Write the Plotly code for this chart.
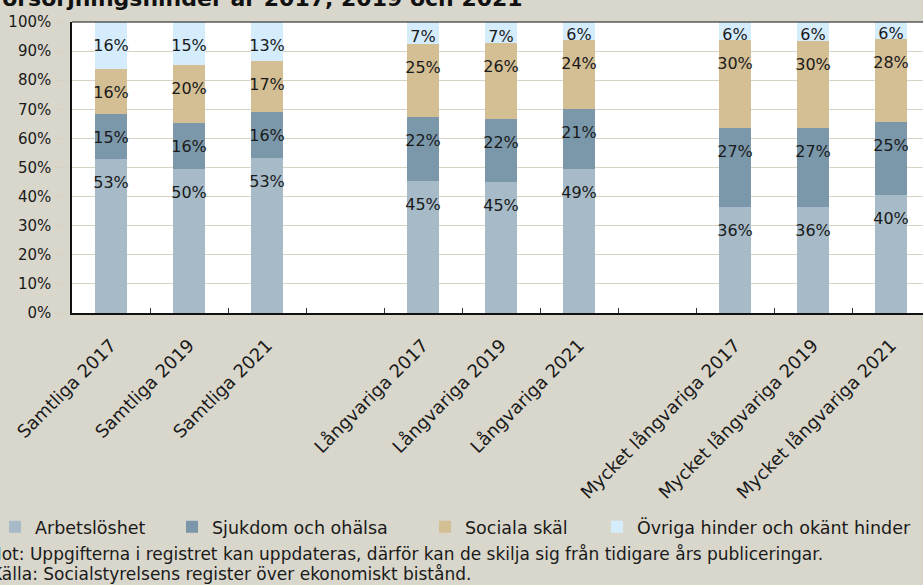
import plotly.graph_objects as go

# Kategorier (tomma platser mellan grupperna)
kategorier = ["Samtliga 2017", "Samtliga 2019", "Samtliga 2021", " ",
              "Långvariga 2017", "Långvariga 2019", "Långvariga 2021", "  ",
              "Mycket långvariga 2017", "Mycket långvariga 2019", "Mycket långvariga 2021"]

# Andel (%) per försörjningshinder
arbetsloshet = [52.9, 49.6, 53.4, None, 45.3, 45.0, 49.4, None, 36.3, 36.5, 40.4]
sjukdom = [15.4, 15.7, 15.8, None, 21.9, 21.8, 20.6, None, 27.3, 27.1, 25.4]
sociala = [15.7, 20.0, 17.4, None, 25.4, 26.1, 23.7, None, 30.1, 30.0, 28.4]
ovriga = [16.0, 14.7, 13.4, None, 7.4, 7.1, 6.3, None, 6.3, 6.4, 5.8]

serier = [
    ("Arbetslöshet", arbetsloshet, "#a6bbc7", "legend", -0.0905),
    ("Sjukdom och ohälsa", sjukdom, "#7b98aa", "legend2", 0.1175),
    ("Sociala skäl", sociala, "#d4bf95", "legend3", 0.4148),
    ("Övriga hinder och okänt hinder", ovriga, "#d4ecfc", "legend4", 0.6169),
]

FONT = "DejaVu Sans"
BG = "#d9d7cb"
GRID = "#d6d3c5"

fig = go.Figure()
bas = [0.0] * len(kategorier)
for namn, varden, farg, leg, lx in serier:
    fig.add_trace(go.Bar(
        x=kategorier, y=varden, name=namn, legend=leg,
        marker=dict(color=farg, line=dict(width=0)),
        hoverinfo="skip",
    ))
    # etiketter en bit under segmentets överkant
    lab_y, lab_t = [], []
    for i, v in enumerate(varden):
        if v is None:
            lab_y.append(None)
            lab_t.append("")
            continue
        topp = bas[i] + v
        lab_y.append(topp - min(8.6, v * 0.75))
        lab_t.append(f"{v:.0f}%")
        bas[i] = topp
    fig.add_trace(go.Scatter(
        x=kategorier, y=lab_y, text=lab_t, mode="text",
        textposition="middle center",
        textfont=dict(family=FONT, size=16, color="#1a1a1a"),
        showlegend=False, hoverinfo="skip",
    ))

legender = {}
for namn, varden, farg, leg, lx in serier:
    legender[leg] = dict(
        x=lx, y=-0.735, xanchor="left", yanchor="middle",
        orientation="h", bgcolor="rgba(0,0,0,0)", borderwidth=0,
        font=dict(family=FONT, size=17.5, color="#1a1a1a"),
    )

fig.update_layout(
    width=923, height=585,
    barmode="stack", bargap=0.59,
    paper_bgcolor=BG, plot_bgcolor="white",
    font=dict(family=FONT, color="#1a1a1a"),
    margin=dict(l=72, r=0, t=22, b=272, autoexpand=False),
    showlegend=True,
    **legender,
)

fig.update_xaxes(
    type="category", categoryorder="array", categoryarray=kategorier,
    range=[-0.5, 10.41], tickangle=-45, ticklabelstandoff=13,
    ticks="inside", tickson="boundaries", ticklen=5, tickcolor="#333333",
    showline=True, linecolor="#111111", linewidth=1.5,
    showgrid=False, tickfont=dict(family=FONT, size=18, color="#1a1a1a"),
)
fig.update_yaxes(
    range=[0, 100], dtick=10, ticksuffix="%",
    showgrid=True, gridcolor=GRID, gridwidth=1, zeroline=False,
    ticks="outside", ticklen=16, tickcolor=GRID,
    showline=True, linecolor="#111111", linewidth=1.5,
    tickfont=dict(family=FONT, size=15, color="#1a1a1a"),
)

# övre ramlinje
fig.add_shape(type="line", xref="paper", yref="paper", x0=0, x1=1, y0=1, y1=1,
              line=dict(color="#111111", width=1))

# titel (delvis utanför bilden)
fig.add_annotation(
    text="<b>Försörjningshinder år 2017, 2019 och 2021</b>",
    xref="paper", yref="paper", x=0.532, y=1.03, xanchor="right", yanchor="bottom",
    showarrow=False, font=dict(family=FONT, size=22, color="#111111"),
)
fig.add_annotation(
    text="Not: Uppgifterna i registret kan uppdateras, därför kan de skilja sig från tidigare års publiceringar.",
    xref="paper", yref="paper", x=-0.0995, y=-0.827, xanchor="left", yanchor="middle",
    showarrow=False, font=dict(family=FONT, size=17, color="#1a1a1a"),
)
fig.add_annotation(
    text="Källa: Socialstyrelsens register över ekonomiskt bistånd.",
    xref="paper", yref="paper", x=-0.0975, y=-0.897, xanchor="left", yanchor="middle",
    showarrow=False, font=dict(family=FONT, size=17, color="#1a1a1a"),
)

fig.write_html(
    "out.html",
    config={"displayModeBar": False},
    post_script="document.body.style.margin='0';document.body.style.overflow='hidden';",
)
